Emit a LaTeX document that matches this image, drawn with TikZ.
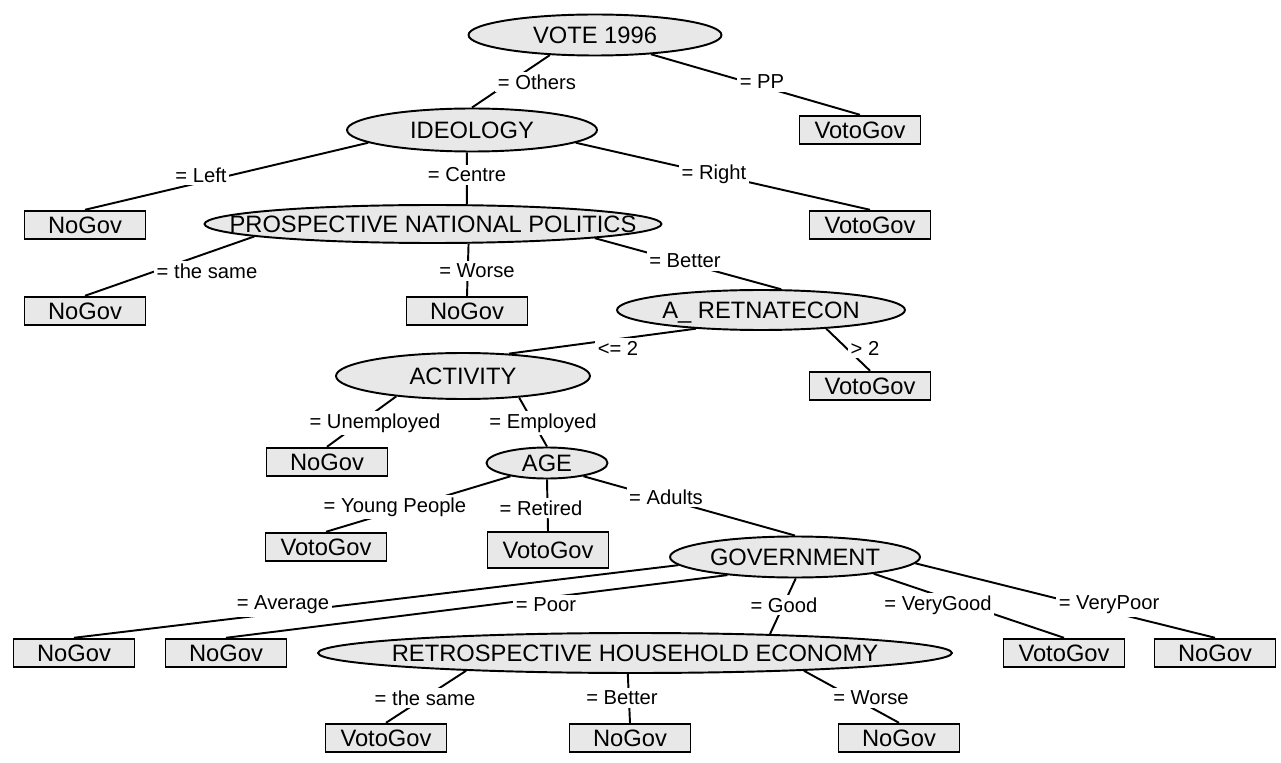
\documentclass[tikz,border=0pt]{standalone}
\usepackage{fontspec}
\setmainfont{Liberation Sans}
\usetikzlibrary{shapes}
\definecolor{boxgray}{HTML}{E8E8E8}
\newcommand{\ctr}[1]{\makebox[0pt]{#1}}

\begin{document}
\begin{tikzpicture}[x=0.02cm,y=-0.02cm,line width=1.1pt,
  attr/.style={ellipse,draw,fill=boxgray,inner sep=0pt,text height=0.34cm,text depth=0pt,font=\fontsize{13.5}{16}\selectfont},
  leaf/.style={draw,fill=boxgray,inner sep=0pt,minimum width=2.42cm,minimum height=0.57cm,font=\fontsize{13.5}{16}\selectfont},
  cond/.style={fill=white,inner sep=1.5pt,font=\fontsize{11.5}{13}\selectfont}]
\useasboundingbox (0,0) rectangle (1281,763);
\node[attr,minimum width=5.06cm,minimum height=0.82cm] (vote) at (595,35) {\ctr{VOTE 1996}};
\node[attr,minimum width=5cm,minimum height=0.86cm] (ideo) at (472,130) {\ctr{IDEOLOGY}};
\node[attr,minimum width=9.14cm,minimum height=0.76cm] (pnp) at (433,224) {\ctr{PROSPECTIVE NATIONAL POLITICS}};
\node[attr,minimum width=5.76cm,minimum height=0.8cm] (ret) at (761,310) {\ctr{A\_ RETNATECON}};
\node[attr,minimum width=5.08cm,minimum height=0.92cm] (act) at (463,376) {\ctr{ACTIVITY}};
\node[attr,minimum width=2.42cm,minimum height=0.62cm] (age) at (547,463) {\ctr{AGE}};
\node[attr,minimum width=5cm,minimum height=0.82cm] (gov) at (795,557) {\ctr{GOVERNMENT}};
\node[attr,minimum width=12.68cm,minimum height=0.8cm] (rhe) at (635,653) {\ctr{RETROSPECTIVE HOUSEHOLD ECONOMY}};
\node[leaf] (l1) at (860,130) {VotoGov};
\node[leaf] (l2) at (85,225) {NoGov};
\node[leaf] (l3) at (870,225) {VotoGov};
\node[leaf] (l4) at (85,311) {NoGov};
\node[leaf] (l5) at (467,311) {NoGov};
\node[leaf] (l6) at (870,386) {VotoGov};
\node[leaf] (l7) at (327,462) {NoGov};
\node[leaf] (l8) at (326,547) {VotoGov};
\node[leaf,minimum height=0.72cm] (l9) at (548,550) {VotoGov};
\node[leaf] (l10) at (74,653) {NoGov};
\node[leaf] (l11) at (226,653) {NoGov};
\node[leaf] (l12) at (1064,653) {VotoGov};
\node[leaf] (l13) at (1215,653) {NoGov};
\node[leaf] (l14) at (386,738) {VotoGov};
\node[leaf] (l15) at (630,738) {NoGov};
\node[leaf] (l16) at (899,738) {NoGov};
\draw (vote.204) -- (ideo.north) (vote.-19) -- (l1.north);
\draw (ideo.187) -- (l2.north) (ideo.257) -- (ideo.257 |- pnp.north) (ideo.-7) -- (l3.north);
\draw (pnp.184) -- (l4.north) (pnp.-29) -- (l5.north) (pnp.-5) -- (ret.46);
\draw (ret.196) -- (act.26) (ret.-16) -- (l6.north);
\draw (act.197) -- (l7.north) (act.-21) -- (age.north);
\draw (age.200) -- (l8.north) (age.south) -- (l9.north) (age.-20) -- (gov.north);
\draw (gov.184) -- (l10.north) (gov.195) -- (l11.north) (gov.-88) -- (rhe.8) (gov.-12) -- (l12.north) (gov.-3) -- (l13.north);
\draw (rhe.186) -- (l14.north) (rhe.251) -- (l15.north) (rhe.-6) -- (l16.north);
\node[cond] (c1) at (537,82) {= Others};
\node[cond] (c2) at (762,82) {= PP};
\node[cond] (c3) at (201,175) {= Left};
\node[cond] (c4) at (467,175) {= Centre};
\node[cond] (c5) at (714,174) {= Right};
\node[cond] (c6) at (207,271) {= the same};
\node[cond] (c7) at (477,271) {= Worse};
\node[cond] (c8) at (685,261) {= Better};
\node[cond] (c9) at (618,348) {<= 2};
\node[cond] (c10) at (865,348) {> 2};
\node[cond] (c11) at (375,423) {= Unemployed};
\node[cond] (c12) at (543,423) {= Employed};
\node[cond] (c13) at (395,507) {= Young People};
\node[cond] (c14) at (541,508) {= Retired};
\node[cond] (c15) at (666,497) {= Adults};
\node[cond] (c16) at (283,605) {= Average};
\node[cond] (c17) at (546,605) {= Poor};
\node[cond] (c18) at (784,605) {= Good};
\node[cond] (c19) at (938,605) {= VeryGood};
\node[cond] (c20) at (1109,605) {= VeryPoor};
\node[cond] (c21) at (425,698) {= the same};
\node[cond] (c22) at (622,698) {= Better};
\node[cond] (c23) at (871,698) {= Worse};
\end{tikzpicture}
\end{document}
